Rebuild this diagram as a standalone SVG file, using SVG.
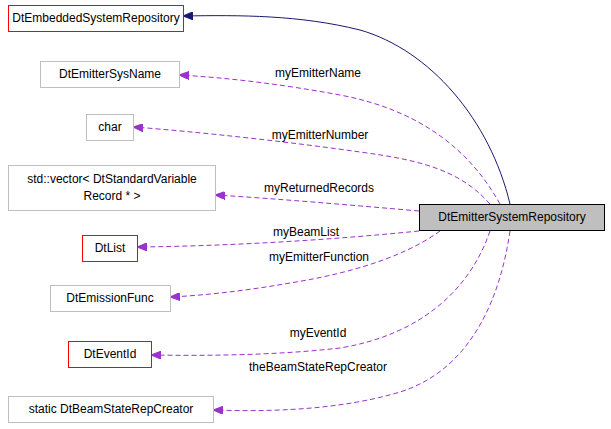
<svg xmlns="http://www.w3.org/2000/svg" width="611" height="429" viewBox="0 0 611 429">
<style>
text{font-family:"Liberation Sans",Arial,sans-serif;font-size:12px;fill:#000}
.n{fill:#fff;stroke:#bfbfbf}
.r{fill:#fff;stroke:#ff0000}
.d{fill:none;stroke:#9a32cd;stroke-dasharray:5,3}
.s{fill:none;stroke:#191970}
</style>
<defs>
<marker id="ap" markerWidth="10" markerHeight="8" refX="9" refY="4" orient="auto" markerUnits="userSpaceOnUse"><path d="M0,0L10,4L0,8z" fill="#9a32cd" stroke="#9a32cd"/></marker>
<marker id="an" markerWidth="10" markerHeight="8" refX="9" refY="4" orient="auto" markerUnits="userSpaceOnUse"><path d="M0,0L10,4L0,8z" fill="#191970" stroke="#191970"/></marker>
</defs>
<rect width="611" height="429" fill="#fff"/>
<g id="connectors">
<path class="s" marker-end="url(#an)" d="M510,204C490,120 430,50 360,30C300,15 240,15 184,16"/>
<path class="d" marker-end="url(#ap)" d="M500,204C470,150 420,110 340,95C280,84 230,78 180,75"/>
<path class="d" marker-end="url(#ap)" d="M490,204C460,170 420,160 360,152C290,142 200,132 134,127"/>
<path class="d" marker-end="url(#ap)" d="M419,211C350,205 280,199 216,195"/>
<path class="d" marker-end="url(#ap)" d="M419,231C330,240 230,246 138,247"/>
<path class="d" marker-end="url(#ap)" d="M440,231C400,260 340,275 290,283C250,290 210,295 171,297"/>
<path class="d" marker-end="url(#ap)" d="M490,231C470,290 420,335 340,348C280,355 210,356 152,355"/>
<path class="d" marker-end="url(#ap)" d="M510,231C500,300 470,370 400,392C340,410 270,412 214,410"/>
</g>
<g id="labels">
<text x="318" y="77" text-anchor="middle">myEmitterName</text>
<text x="320" y="139" text-anchor="middle">myEmitterNumber</text>
<text x="319" y="192" text-anchor="middle">myReturnedRecords</text>
<text x="306" y="236" text-anchor="middle">myBeamList</text>
<text x="319" y="261" text-anchor="middle">myEmitterFunction</text>
<text x="318" y="337" text-anchor="middle">myEventId</text>
<text x="318" y="371" text-anchor="middle">theBeamStateRepCreator</text>
</g>
<g id="n1"><rect class="r" x="8.5" y="5.5" width="175" height="26"/><text x="96" y="22" text-anchor="middle">DtEmbeddedSystemRepository</text></g>
<g id="n2"><rect class="n" x="40.5" y="61.5" width="139" height="26"/><text x="110" y="78" text-anchor="middle">DtEmitterSysName</text></g>
<g id="n3"><rect class="n" x="86.5" y="114.5" width="47" height="26"/><text x="110" y="131" text-anchor="middle">char</text></g>
<g id="n4"><rect class="n" x="8.5" y="165.5" width="207" height="45"/><text x="112" y="183" text-anchor="middle">std::vector&lt; DtStandardVariable</text><text x="112" y="200" text-anchor="middle">Record * &gt;</text></g>
<g id="n5"><rect class="r" x="82.5" y="235.5" width="55" height="26"/><text x="110" y="252" text-anchor="middle">DtList</text></g>
<g id="n6"><rect class="n" x="50.5" y="285.5" width="120" height="26"/><text x="110" y="302" text-anchor="middle">DtEmissionFunc</text></g>
<g id="n7"><rect class="r" x="68.5" y="341.5" width="83" height="26"/><text x="110" y="358" text-anchor="middle">DtEventId</text></g>
<g id="n8"><rect class="n" x="8.5" y="396.5" width="205" height="26"/><text x="111" y="413" text-anchor="middle">static DtBeamStateRepCreator</text></g>
<g id="n9"><rect x="419.5" y="204.5" width="185" height="26" fill="#bfbfbf" stroke="#000"/><text x="512" y="221" text-anchor="middle">DtEmitterSystemRepository</text></g>
</svg>
